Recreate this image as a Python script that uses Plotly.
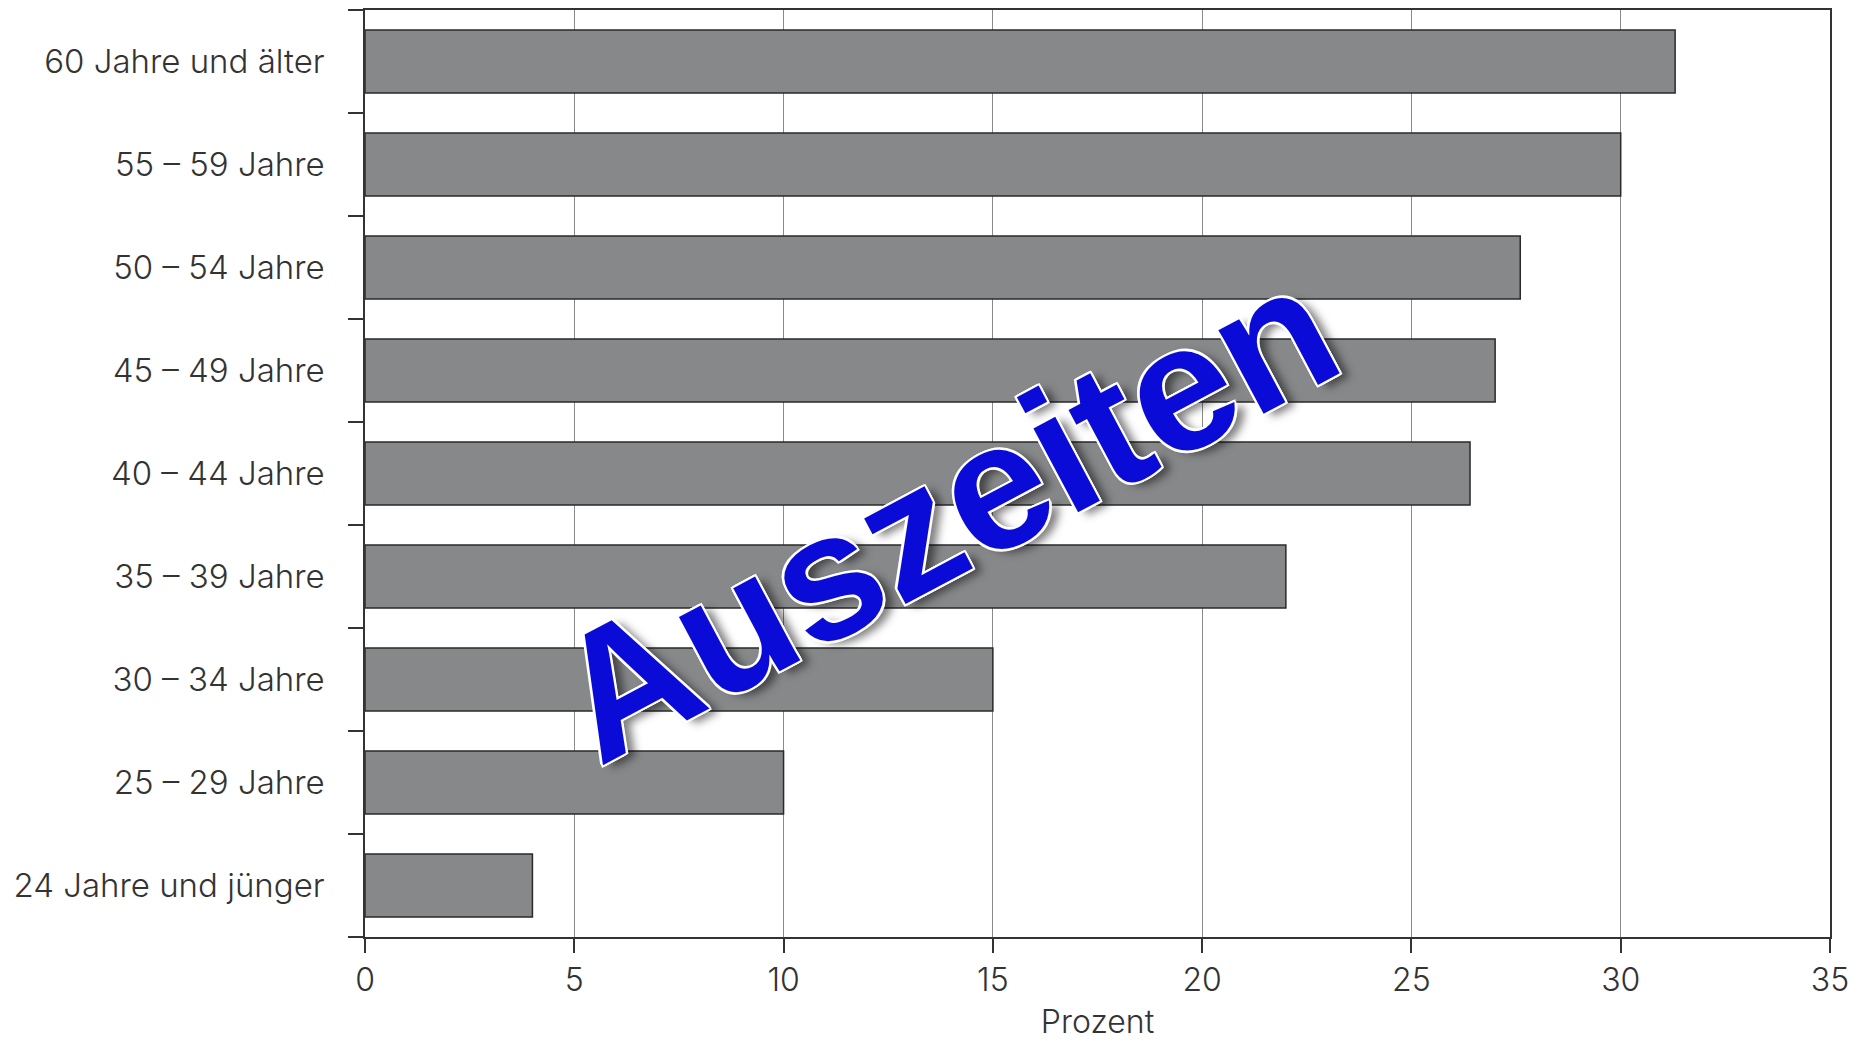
import plotly.graph_objects as go

categories = ["24 Jahre und jünger", "25 – 29 Jahre", "30 – 34 Jahre", "35 – 39 Jahre",
              "40 – 44 Jahre", "45 – 49 Jahre", "50 – 54 Jahre", "55 – 59 Jahre",
              "60 Jahre und älter"]
values = [4.0, 10.0, 15.0, 22.0, 26.4, 27.0, 27.6, 30.0, 31.3]
x_ticks = [0, 5, 10, 15, 20, 25, 30, 35]
x_title = "Prozent"
watermark = "Auszeiten"

font_family = "Inter, Open Sans, Liberation Sans, Arial, sans-serif"
W, H = 1860, 1041
L, R, T, B = 357, 38, 0, 112

fig = go.Figure()
fig.add_trace(go.Bar(
    x=values, y=categories, orientation="h",
    marker=dict(color="#87888a", line=dict(color="#2a2a2a", width=1.5)),
    showlegend=False,
))

fig.update_layout(
    width=W, height=H,
    margin=dict(l=L, r=R, t=T, b=B),
    paper_bgcolor="white", plot_bgcolor="white",
    bargap=0.39,
    font=dict(family=font_family, size=33, color="#333333", weight=300),
)

fig.update_xaxes(
    range=[0, 35], tickvals=x_ticks, ticktext=[str(v) for v in x_ticks],
    showgrid=True, gridcolor="#8a8a8a", gridwidth=1,
    showline=True, linecolor="#333333", linewidth=1.5, mirror=True,
    ticks="outside", ticklen=14, tickcolor="#333333", tickwidth=1.5,
    tickfont=dict(family=font_family, size=32, color="#333333", weight=300),
    title=dict(text=x_title, font=dict(family=font_family, size=32, color="#333333", weight=300), standoff=12),
    zeroline=False,
)
fig.update_yaxes(
    type="category", categoryorder="array", categoryarray=categories,
    tickson="boundaries", ticks="outside", ticklen=15, tickcolor="#333333", tickwidth=1.5,
    showline=True, linecolor="#333333", linewidth=1.5, mirror=True,
    showgrid=False,
    tickfont=dict(family=font_family, size=33, color="#333333", weight=300),
    ticklabelstandoff=32,
)

cx, cy = 937, 504
fig.add_annotation(
    text="<b>" + watermark + "</b>",
    xref="paper", yref="paper",
    x=(cx - L) / (W - L - R), y=1 - (cy - T) / (H - T - B),
    xanchor="center", yanchor="middle",
    textangle=-28, showarrow=False,
    font=dict(family="Liberation Sans, Arial, sans-serif", size=180, color="#0b0bd8",
              shadow="-2px -2px 0 #ffffff, 2px -2px 0 #ffffff, -2px 2px 0 #ffffff, 2px 2px 0 #ffffff, 0 -2px 0 #ffffff, 0 2px 0 #ffffff, -2px 0 0 #ffffff, 2px 0 0 #ffffff, 7px 7px 8px rgba(0,0,0,0.5)"),
)

fig.write_html("out.html")
